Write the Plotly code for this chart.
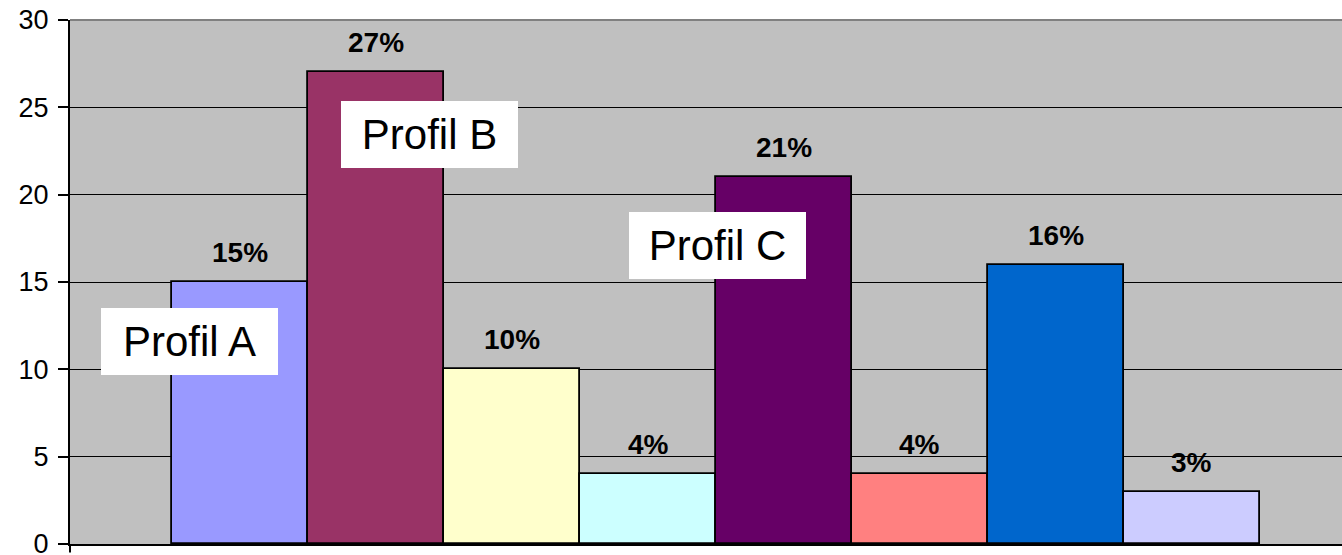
import plotly.graph_objects as go

categories = ["A1", "A2", "A3", "A4", "A5", "A6", "A7", "A8"]
values = [15, 27, 10, 4, 21, 4, 16, 3]
labels = ["15%", "27%", "10%", "4%", "21%", "4%", "16%", "3%"]
colors = ["#9999FF", "#993366", "#FFFFCC", "#CCFFFF", "#660066", "#FF8080", "#0066CC", "#CCCCFF"]
profile_names = ["Profil A", "Profil B", "Profil C"]
profile_x = [-0.371, 1.393, 3.511]
profile_y = [11.59, 23.47, 17.09]
ytick_vals = [0, 5, 10, 15, 20, 25, 30]

xpos = list(range(len(categories)))

fig = go.Figure()
fig.add_trace(go.Bar(
    x=xpos, y=values, width=1,
    marker=dict(color=colors, line=dict(color="black", width=1.8)),
    hoverinfo="skip", showlegend=False,
))

annotations = []
for xi, v, t in zip(xpos, values, labels):
    annotations.append(dict(
        x=xi, y=v, xref="x", yref="y", text="<b>" + t + "</b>",
        showarrow=False, yanchor="bottom", yshift=12,
        font=dict(family="Liberation Sans, Arial", size=28, color="black"),
    ))
for name, px_, py_ in zip(profile_names, profile_x, profile_y):
    annotations.append(dict(
        x=px_, y=py_, xref="x", yref="y", text=name, showarrow=False,
        xanchor="center", yanchor="middle",
        width=177, height=67, bgcolor="white", borderpad=0, borderwidth=0,
        font=dict(family="Liberation Sans, Arial", size=42, color="black"),
    ))

fig.update_layout(
    width=1342, height=555,
    margin=dict(l=70, r=0, t=20, b=11),
    paper_bgcolor="white", plot_bgcolor="#C0C0C0",
    bargap=0,
    annotations=annotations,
    shapes=[
        dict(type="line", xref="paper", yref="paper", x0=0, x1=1, y0=1, y1=1,
             line=dict(color="#808080", width=2)),
        dict(type="line", xref="paper", yref="paper", x0=0, x1=0, y0=0, y1=-0.016,
             line=dict(color="black", width=2)),
    ],
    xaxis=dict(range=[-1.25, 8.103], showticklabels=False, ticks="", showgrid=False,
               zeroline=False, showline=True, linecolor="black", linewidth=2,
               fixedrange=True, automargin=False),
    yaxis=dict(range=[0, 30], tickvals=ytick_vals, ticks="outside", ticklen=10,
               tickcolor="black", tickwidth=1.5, showgrid=True, gridcolor="black",
               gridwidth=1.3, zeroline=False, showline=True, linecolor="black",
               linewidth=2, ticklabelstandoff=4, ticklabeloverflow="allow",
               tickfont=dict(family="Liberation Sans, Arial", size=27, color="black"),
               fixedrange=True, automargin=False),
)

fig.write_html(
    "out.html",
    config={"displayModeBar": False},
    post_script="document.body.style.margin='0';document.body.style.padding='0';document.body.style.overflow='hidden';",
)
